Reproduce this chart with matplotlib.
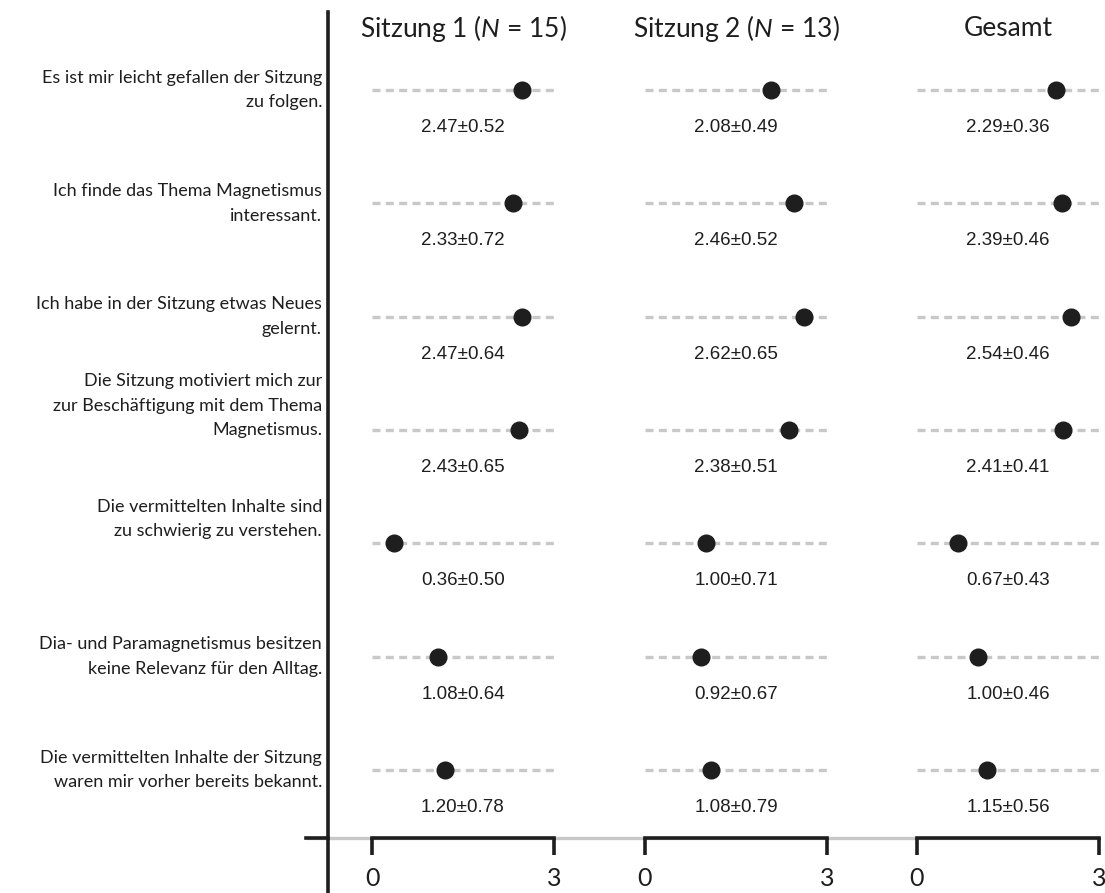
import matplotlib
matplotlib.use("Agg")
import matplotlib.pyplot as plt
from matplotlib import transforms
from matplotlib.lines import Line2D

plt.rcParams['font.family'] = ['Lato', 'DejaVu Sans']
plt.rcParams['mathtext.fontset'] = 'custom'
plt.rcParams['mathtext.it'] = 'Lato:italic'
plt.rcParams['mathtext.rm'] = 'Lato'

items = [
    "Es ist mir leicht gefallen der Sitzung\nzu folgen.",
    "Ich finde das Thema Magnetismus\ninteressant.",
    "Ich habe in der Sitzung etwas Neues\ngelernt.",
    "Die Sitzung motiviert mich zur\nzur Beschäftigung mit dem Thema\nMagnetismus.\n\n",
    "Die vermittelten Inhalte sind\nzu schwierig zu verstehen.\n\n",
    "Dia- und Paramagnetismus besitzen\nkeine Relevanz für den Alltag.",
    "Die vermittelten Inhalte der Sitzung\nwaren mir vorher bereits bekannt.",
]
panel_titles = ["Sitzung 1 ($N$ = 15)", "Sitzung 2 ($N$ = 13)", "Gesamt"]
mean_s1 = [2.47, 2.33, 2.47, 2.43, 0.36, 1.08, 1.20]
sd_s1 = [0.52, 0.72, 0.64, 0.65, 0.50, 0.64, 0.78]
mean_s2 = [2.08, 2.46, 2.62, 2.38, 1.00, 0.92, 1.08]
sd_s2 = [0.49, 0.52, 0.65, 0.51, 0.71, 0.67, 0.79]
mean_all = [2.29, 2.39, 2.54, 2.41, 0.67, 1.00, 1.15]
sd_all = [0.36, 0.46, 0.46, 0.41, 0.43, 0.46, 0.56]
scale_min, scale_max = 0, 3
xticks = [0, 3]

means = [mean_s1, mean_s2, mean_all]
sds = [sd_s1, sd_s2, sd_all]

W, H = 1105, 893
fig = plt.figure(figsize=(W / 100, H / 100), dpi=100)

n = len(items)
ypos = [n - 1 - i for i in range(n)]
ax_bottom_px, ax_top_px = 838, 12
lefts_px = [372, 645, 917]
width_px = 182
grey = '#c8c8c8'
dark = '#1e1e1e'

axes = []
for k in range(3):
    ax = fig.add_axes([lefts_px[k] / W, (H - ax_bottom_px) / H, width_px / W,
                       (ax_bottom_px - ax_top_px) / H])
    ax.set_xlim(scale_min, scale_max)
    ax.set_ylim(-0.6, 6.688)
    for s in ['top', 'right', 'left']:
        ax.spines[s].set_visible(False)
    ax.spines['bottom'].set_color(dark)
    ax.spines['bottom'].set_linewidth(2.6)
    ax.spines['bottom'].set_zorder(5)
    ax.set_yticks([])
    ax.set_xticks(xticks)
    ax.set_xticklabels([str(t) for t in xticks])
    ax.tick_params(axis='x', length=12, width=2.6, color=dark, direction='out',
                   labelsize=18, pad=9, labelcolor=dark)
    ax.patch.set_visible(False)
    for j in range(n):
        y = ypos[j]
        ln, = ax.plot([scale_min, scale_max], [y, y], color=grey, lw=2.4, zorder=1)
        ln.set_dashes((2.4, 1.6))
        ax.plot([means[k][j]], [y], 'o', color=dark, ms=12, zorder=3, clip_on=False)
        ax.text((scale_min + scale_max) / 2, y - 0.33,
                f"{means[k][j]:.2f}\u00b1{sds[k][j]:.2f}",
                ha='center', va='center', fontsize=13.5, color=dark,
                family=['Liberation Sans', 'DejaVu Sans'])
    ax.text(0.5, 0.98, panel_titles[k], transform=ax.transAxes, ha='center',
            va='center', fontsize=19, color=dark)
    axes.append(ax)

# row labels
trans = transforms.blended_transform_factory(fig.transFigure, axes[0].transData)
for j in range(n):
    fig.text(322 / W, ypos[j], items[j], transform=trans, ha='right', va='center',
             fontsize=13, color=dark, linespacing=1.65)

# frame lines
fig.add_artist(Line2D([308 / W, 1099 / W], [(H - 838) / H] * 2, color=grey, lw=2.4,
                      zorder=0, transform=fig.transFigure))
fig.add_artist(Line2D([306 / W, 328 / W], [(H - 838) / H] * 2, color=dark, lw=2.6,
                      zorder=2, transform=fig.transFigure))
fig.add_artist(Line2D([328 / W, 328 / W], [0, (H - 12) / H], color=dark, lw=2.6,
                      zorder=2, transform=fig.transFigure))

fig.savefig('out.png', dpi=100)
